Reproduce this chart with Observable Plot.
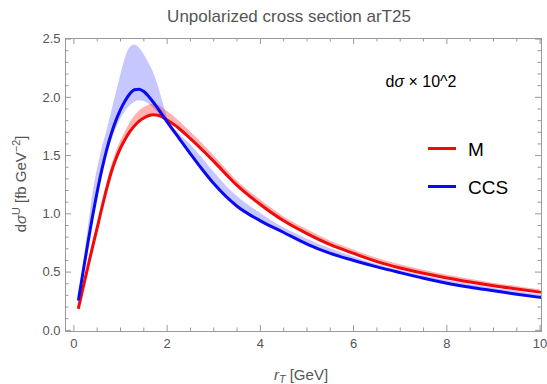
<!DOCTYPE html>
<html>
<head>
<meta charset="utf-8">
<script src="https://cdn.jsdelivr.net/npm/d3@7"></script>
<script src="https://cdn.jsdelivr.net/npm/@observablehq/plot@0.6"></script>
<style>
  body { margin: 0; background: #fff; font-family: "Liberation Sans", Arial, sans-serif; }
  #wrap { position: relative; width: 547px; height: 384px; overflow: hidden; }
  #wrap svg { position: absolute; left: 0; top: 0; }
  .t { position: absolute; white-space: nowrap; line-height: 1; }
  .sup { font-size: 0.72em; position: relative; top: -0.55em; }
  .sub { font-size: 0.72em; position: relative; top: 0.3em; }
  .sw { position: absolute; width: 28px; height: 3px; }
</style>
</head>
<body>
<div id="wrap"></div>
<script>
// r_T grid (GeV)
const rT = [0.1,0.2,0.3,0.4,0.5,0.6,0.7,0.8,0.9,1.0,1.1,1.2,1.3,1.4,1.5,1.6,1.7,1.8,1.9,2.0,2.25,2.5,2.75,3.0,3.5,4.0,4.5,5.0,5.5,6.0,6.5,7.0,7.5,8.0,8.5,9.0,9.5,10.0];
// CCS central curve and band
const ccs   = [0.266,0.51,0.75,0.98,1.19,1.38,1.545,1.685,1.80,1.895,1.97,2.03,2.065,2.07,2.05,2.01,1.96,1.905,1.848,1.79,1.652,1.515,1.383,1.26,1.065,0.94,0.84,0.74,0.66,0.60,0.545,0.495,0.447,0.405,0.37,0.34,0.31,0.283];
const ccsLo = [0.255,0.49,0.72,0.94,1.14,1.32,1.48,1.61,1.72,1.81,1.875,1.925,1.955,1.97,1.965,1.945,1.91,1.87,1.828,1.78,1.647,1.51,1.378,1.255,1.06,0.935,0.835,0.735,0.655,0.595,0.54,0.49,0.442,0.40,0.365,0.335,0.305,0.278];
const ccsHi = [0.28,0.55,0.85,1.15,1.37,1.55,1.70,1.86,2.02,2.18,2.33,2.425,2.45,2.425,2.37,2.30,2.22,2.11,1.97,1.835,1.69,1.595,1.48,1.36,1.15,1.005,0.88,0.785,0.70,0.63,0.565,0.513,0.468,0.428,0.393,0.362,0.333,0.305];
// M central curve and band
const mLine = [0.195,0.37,0.545,0.715,0.88,1.05,1.21,1.355,1.47,1.565,1.64,1.705,1.755,1.795,1.822,1.842,1.85,1.847,1.83,1.805,1.735,1.645,1.55,1.45,1.245,1.08,0.94,0.83,0.735,0.66,0.59,0.535,0.49,0.45,0.415,0.383,0.355,0.328];
const mLo   = [0.185,0.36,0.535,0.705,0.87,1.04,1.20,1.345,1.46,1.555,1.63,1.695,1.745,1.785,1.812,1.832,1.84,1.837,1.82,1.795,1.725,1.635,1.54,1.44,1.235,1.07,0.93,0.82,0.725,0.65,0.58,0.525,0.48,0.44,0.405,0.373,0.345,0.318];
const mHi   = [0.205,0.385,0.565,0.74,0.91,1.085,1.25,1.40,1.52,1.62,1.70,1.775,1.835,1.88,1.91,1.93,1.94,1.932,1.91,1.88,1.80,1.705,1.605,1.50,1.285,1.12,0.975,0.865,0.767,0.69,0.618,0.562,0.515,0.474,0.438,0.405,0.376,0.348];
// ticks
const xMajor = [0,2,4,6,8,10];
const xMinor = [0.5,1,1.5,2.5,3,3.5,4.5,5,5.5,6.5,7,7.5,8.5,9,9.5];
const yMajor = [0,0.5,1,1.5,2,2.5];
const yMinor = [0.1,0.2,0.3,0.4,0.6,0.7,0.8,0.9,1.1,1.2,1.3,1.4,1.6,1.7,1.8,1.9,2.1,2.2,2.3,2.4];
const seriesNames = ["M","CCS"];
const seriesColors = ["#f00a0a","#0a0af0"];

const data = rT.map((x,i) => ({x, ccs: ccs[i], ccsLo: ccsLo[i], ccsHi: ccsHi[i], m: mLine[i], mLo: mLo[i], mHi: mHi[i]}));

const W = 547, H = 384, mL = 65, mR = 6, mT = 38, mB = 53;
const plotW = W - mL - mR, plotH = H - mT - mB;
const majorLen = 6, minorLen = 3.5;
const tickStroke = "#9a9a9a";
const labFill = "#555";

const plot = Plot.plot({
  width: W, height: H,
  marginLeft: mL, marginRight: mR, marginTop: mT, marginBottom: mB,
  x: {domain: [-0.18, 10.03]},
  y: {domain: [-0.01, 2.505]},
  style: {fontFamily: "'Liberation Sans', Arial, sans-serif", background: "white"},
  marks: [
    Plot.areaY(data, {x: "x", y1: "ccsLo", y2: "ccsHi", fill: "#0000ff", fillOpacity: 0.22, curve: "monotone-x"}),
    Plot.areaY(data, {x: "x", y1: "mLo", y2: "mHi", fill: "#ff0000", fillOpacity: 0.3, curve: "monotone-x"}),
    Plot.lineY(data, {x: "x", y: "m", stroke: seriesColors[0], strokeWidth: 3, curve: "monotone-x"}),
    Plot.lineY(data, {x: "x", y: "ccs", stroke: seriesColors[1], strokeWidth: 3, curve: "monotone-x"}),
    Plot.frame({stroke: tickStroke}),
    // inward ticks on all four sides
    Plot.tickX(xMajor, {x: d => d, stroke: tickStroke, insetTop: plotH - majorLen}),
    Plot.tickX(xMajor, {x: d => d, stroke: tickStroke, insetBottom: plotH - majorLen}),
    Plot.tickX(xMinor, {x: d => d, stroke: tickStroke, insetTop: plotH - minorLen}),
    Plot.tickX(xMinor, {x: d => d, stroke: tickStroke, insetBottom: plotH - minorLen}),
    Plot.tickY(yMajor, {y: d => d, stroke: tickStroke, insetRight: plotW - majorLen}),
    Plot.tickY(yMajor, {y: d => d, stroke: tickStroke, insetLeft: plotW - majorLen}),
    Plot.tickY(yMinor, {y: d => d, stroke: tickStroke, insetRight: plotW - minorLen}),
    Plot.tickY(yMinor, {y: d => d, stroke: tickStroke, insetLeft: plotW - minorLen}),
    // tick labels
    Plot.axisX(xMajor, {anchor: "bottom", tickSize: 0, tickPadding: 7, fill: labFill, fontSize: 13, label: null, tickFormat: d => String(d)}),
    Plot.axisY(yMajor, {anchor: "left", tickSize: 0, tickPadding: 5, fill: labFill, fontSize: 13, label: null, tickFormat: d3.format(".1f")})
  ]
});

const wrap = document.getElementById("wrap");
wrap.appendChild(plot);

function addText(html, left, top, css) {
  const d = document.createElement("div");
  d.className = "t";
  d.innerHTML = html;
  d.style.left = left + "px";
  d.style.top = top + "px";
  Object.assign(d.style, css || {});
  wrap.appendChild(d);
  return d;
}
addText("Unpolarized cross section arT25", 289, 16, {fontSize: "17px", color: "#555", transform: "translate(-50%,-50%)"});
addText('d<i>σ</i><span class="sup">U</span> [fb GeV<span class="sup">−2</span>]', 20, 184, {fontSize: "15px", color: "#555", transform: "translate(-50%,-50%) rotate(-90deg)"});
addText('<i>r</i><span class="sub"><i>T</i></span> [GeV]', 301, 374, {fontSize: "15px", color: "#555", transform: "translate(-50%,-50%)"});
addText('d<i>σ</i> × 10^2', 421, 82, {fontSize: "16px", color: "#000", transform: "translate(-50%,-50%)"});

const legendY = [148, 186];
seriesNames.forEach((name, i) => {
  const sw = document.createElement("div");
  sw.className = "sw";
  sw.style.left = "428px";
  sw.style.top = (legendY[i] - 1.5) + "px";
  sw.style.background = seriesColors[i];
  wrap.appendChild(sw);
  addText(name, 468, legendY[i] + 1, {fontSize: "19px", color: "#000", transform: "translateY(-50%)"});
});
</script>
</body>
</html>
